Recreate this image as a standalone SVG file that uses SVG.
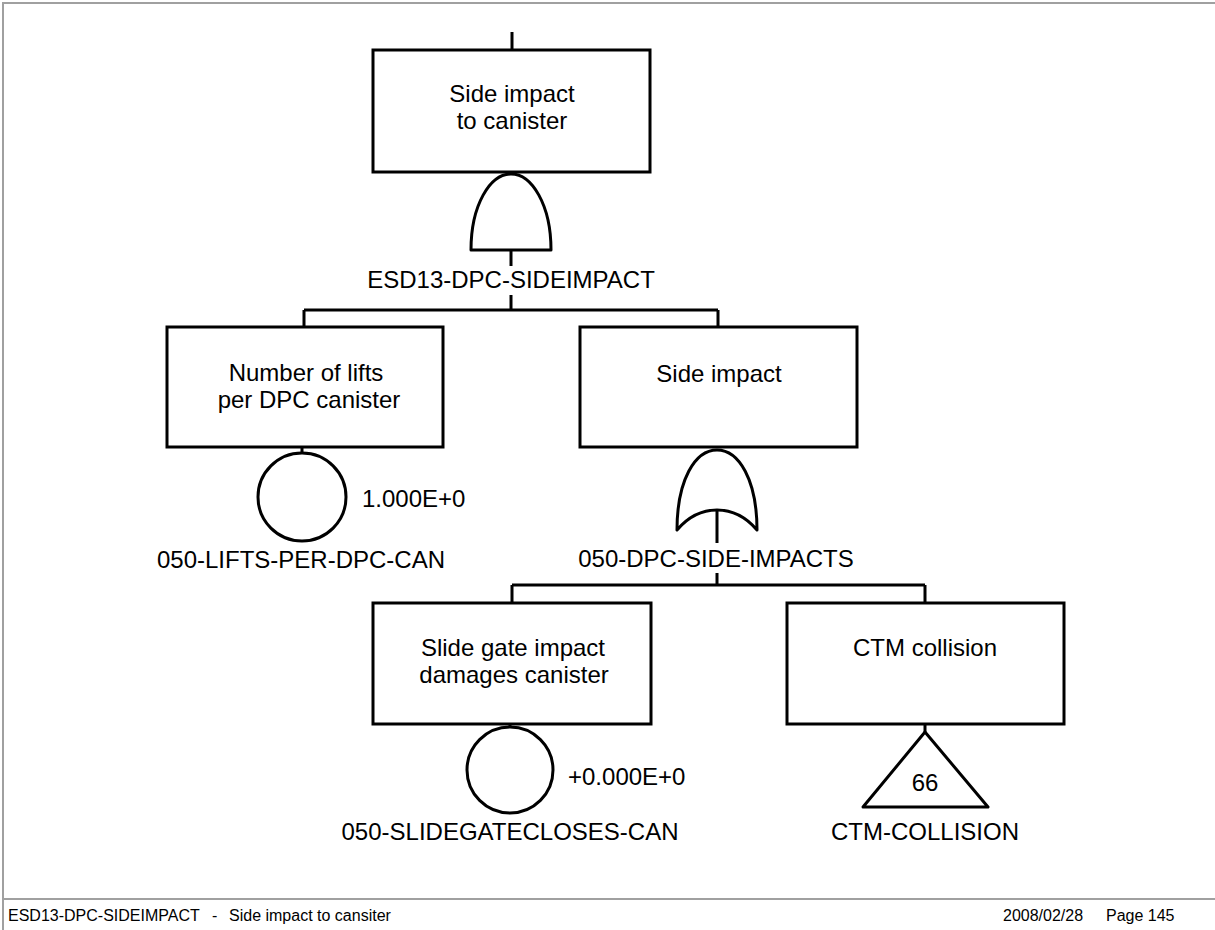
<svg xmlns="http://www.w3.org/2000/svg" width="1215" height="930" viewBox="0 0 1215 930">
<style>
.frame{fill:none;stroke:#a0a0a0;stroke-width:2}
.box{fill:#fff;stroke:#000;stroke-width:3}
.gate{fill:#fff;stroke:#000;stroke-width:3;stroke-linejoin:round}
.ln{fill:none;stroke:#000;stroke-width:3}
.t{font-family:"Liberation Sans",Arial,sans-serif;font-size:24px;fill:#000}
.m{text-anchor:middle}
.f{font-family:"Liberation Sans",Arial,sans-serif;font-size:16px;fill:#000}
</style>
<rect width="1215" height="930" fill="#fff"/>
<g id="frame">
<path class="frame" d="M1215,3 H3 V930 M3,899 H1215"/>
</g>
<g id="connectors">
<path class="ln" d="M512,32 V50"/>
<path class="ln" d="M511,250 V266 M511,295 V310 M304,310 H718 M304,310 V327 M718,310 V327"/>
<path class="ln" d="M302,447 V453"/>
<path class="ln" d="M717,510 V543 M717,573 V585 M512,585 H925 M512,585 V603 M925,585 V603"/>
<path class="ln" d="M510,724 V727"/>
<path class="ln" d="M925,724 V732"/>
</g>
<g id="top">
<rect class="box" x="373" y="50" width="277" height="122"/>
<text class="t m" x="512" y="102">Side impact</text>
<text class="t m" x="512" y="129">to canister</text>
</g>
<g id="gate-ESD13-DPC-SIDEIMPACT">
<path class="gate" d="M471,250 C471,205 490,174 511,174 C532,174 551,205 551,250 Z"/>
<text class="t m" x="511" y="288">ESD13-DPC-SIDEIMPACT</text>
</g>
<g id="lifts">
<rect class="box" x="167" y="327" width="276" height="120"/>
<text class="t m" x="306" y="381">Number of lifts</text>
<text class="t m" x="309" y="408">per DPC canister</text>
</g>
<g id="event-050-LIFTS-PER-DPC-CAN">
<circle class="gate" cx="302" cy="497" r="44"/>
<text class="t" x="362" y="507">1.000E+0</text>
<text class="t m" x="301" y="568">050-LIFTS-PER-DPC-CAN</text>
</g>
<g id="side-impact">
<rect class="box" x="580" y="327" width="277" height="120"/>
<text class="t m" x="719" y="382">Side impact</text>
</g>
<g id="gate-050-DPC-SIDE-IMPACTS">
<path class="gate" d="M677,530 C677,480 695,450 717,450 C739,450 757,480 757,530 C746,517 733,510 717,510 C701,510 688,517 677,530 Z"/>
<text class="t m" x="716" y="567">050-DPC-SIDE-IMPACTS</text>
</g>
<g id="slide-gate">
<rect class="box" x="373" y="603" width="278" height="121"/>
<text class="t m" x="513" y="656">Slide gate impact</text>
<text class="t m" x="514" y="683">damages canister</text>
</g>
<g id="event-050-SLIDEGATECLOSES-CAN">
<circle class="gate" cx="510" cy="770" r="43"/>
<text class="t" x="568" y="785">+0.000E+0</text>
<text class="t m" x="510" y="840">050-SLIDEGATECLOSES-CAN</text>
</g>
<g id="ctm">
<rect class="box" x="787" y="603" width="277" height="121"/>
<text class="t m" x="925" y="656">CTM collision</text>
</g>
<g id="transfer-CTM-COLLISION">
<path class="gate" d="M925,732 L988,807 L863,807 Z"/>
<text class="t m" x="925" y="791">66</text>
<text class="t m" x="925" y="840">CTM-COLLISION</text>
</g>
<g id="footer">
<text class="f" x="8" y="921">ESD13-DPC-SIDEIMPACT</text>
<text class="f" x="212" y="921">-</text>
<text class="f" x="229" y="921">Side impact to cansiter</text>
<text class="f" x="1003" y="921">2008/02/28</text>
<text class="f" x="1106" y="921">Page 145</text>
</g>
</svg>
